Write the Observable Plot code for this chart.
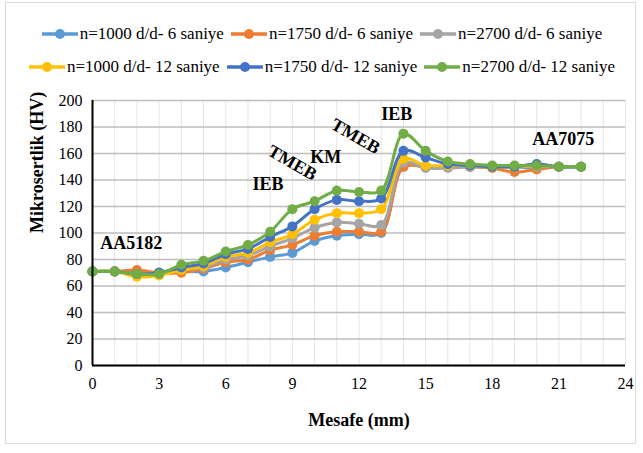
<!DOCTYPE html>
<html>
<head>
<meta charset="utf-8">
<script src="https://cdn.jsdelivr.net/npm/d3@7"></script>
<script src="https://cdn.jsdelivr.net/npm/@observablehq/plot@0.6"></script>
<style>
  html, body { margin: 0; padding: 0; background: #fff; }
  body { width: 643px; height: 453px; position: relative; overflow: hidden; font-family: "Liberation Serif", "Tinos", "DejaVu Serif", serif; }
  #frame { position: absolute; left: 5px; top: 2px; width: 631px; height: 442px; border: 1px solid #d9d9d9; box-sizing: border-box; }
  #legend { position: absolute; left: 0; top: 17px; width: 643px; }
  .row { display: flex; justify-content: center; align-items: center; height: 33px; }
  .item { display: flex; align-items: center; font-size: 17px; color: #000; margin: 0 3px; }
  .item svg { margin-right: 1px; }
  #chart { position: absolute; left: 0; top: 85px; }
  #chart svg text { font-family: "Liberation Serif", "Tinos", "DejaVu Serif", serif; }
</style>
</head>
<body>
<div id="frame"></div>
<div id="legend"></div>
<div id="chart"></div>
<script>
const distance = [0, 1, 2, 3, 4, 5, 6, 7, 8, 9, 10, 11, 12, 13, 14, 15, 16, 17, 18, 19, 20, 21, 22];

const s1000_6  = [71, 71, 70, 70, 71, 71, 74, 78, 82, 85, 94, 98, 99, 100, 150, 150, 150, 150, 150, 150, 149, 150, 150];
const s1750_6  = [71, 71, 72, 70, 70, 73, 78, 80, 87, 91, 98, 101, 101, 101, 150, 150, 150, 150, 149, 146, 148, 150, 150];
const s2700_6  = [71, 71, 69, 70, 72, 74, 80, 83, 90, 96, 104, 108, 107, 106, 153, 149, 149, 150, 150, 150, 150, 150, 150];
const s1000_12 = [71, 71, 67, 68, 72, 75, 82, 85, 93, 99, 110, 115, 115, 118, 156, 151, 151, 151, 150, 150, 151, 150, 150];
const s1750_12 = [71, 71, 69, 70, 74, 77, 84, 88, 97, 105, 118, 125, 124, 126, 162, 157, 152, 151, 150, 150, 152, 150, 150];
const s2700_12 = [71, 71, 69, 69, 76, 79, 86, 91, 101, 118, 124, 132, 131, 132, 175, 162, 154, 152, 151, 151, 151, 150, 150];

const seriesNames = ["n=1000 d/d- 6 saniye", "n=1750 d/d- 6 saniye", "n=2700 d/d- 6 saniye",
                     "n=1000 d/d- 12 saniye", "n=1750 d/d- 12 saniye", "n=2700 d/d- 12 saniye"];
const seriesColors = ["#5B9BD5", "#ED7D31", "#A5A5A5", "#FFC000", "#4472C4", "#70AD47"];
const seriesValues = [s1000_6, s1750_6, s2700_6, s1000_12, s1750_12, s2700_12];

const xTicks = [0, 3, 6, 9, 12, 15, 18, 21, 24];
const yTicks = [0, 20, 40, 60, 80, 100, 120, 140, 160, 180, 200];

const annLabels = ["AA5182", "IEB", "TMEB", "KM", "TMEB", "IEB", "AA7075"];
const annX      = [0.35, 7.9, 9.0, 10.5, 11.85, 13.7, 21.2];
const annY      = [92, 137, 153, 157, 173, 190, 171];
const annRotate = [0, 0, 30, 0, 30, 0, 0];
const annAnchor = ["start", "middle", "middle", "middle", "middle", "middle", "middle"];

const rows = [];
seriesNames.forEach((name, i) => {
  distance.forEach((d, j) => rows.push({series: name, idx: i, x: d, y: seriesValues[i][j]}));
});
const ann = annLabels.map((t, i) => ({t, x: annX[i], y: annY[i], r: annRotate[i], a: annAnchor[i]}));

// Legend
const legend = document.getElementById("legend");
[[0, 1, 2], [3, 4, 5]].forEach(idxs => {
  const row = document.createElement("div");
  row.className = "row";
  idxs.forEach(i => {
    const it = document.createElement("div");
    it.className = "item";
    it.innerHTML = `<svg width="38" height="12"><line x1="1" y1="6" x2="37" y2="6" stroke="${seriesColors[i]}" stroke-width="3.5"/><circle cx="19" cy="6" r="5" fill="${seriesColors[i]}"/></svg><span>${seriesNames[i]}</span>`;
    row.appendChild(it);
  });
  legend.appendChild(row);
});

const minorX = d3.range(0, 25, 1);

const marks = [
  Plot.ruleX(minorX, {stroke: "#e4e4e4", strokeWidth: 1}),
  Plot.ruleY(yTicks, {stroke: "#bdbdbd", strokeWidth: 1.5}),
  Plot.axisX(xTicks, {tickSize: 0, tickPadding: 12, fontSize: 16, label: null}),
  Plot.axisY(yTicks, {tickSize: 0, tickPadding: 10, fontSize: 16, label: null}),
];
seriesNames.forEach((name, i) => {
  const data = rows.filter(r => r.idx === i);
  marks.push(Plot.line(data, {x: "x", y: "y", stroke: seriesColors[i], strokeWidth: 3, curve: "catmull-rom"}));
  marks.push(Plot.dot(data, {x: "x", y: "y", r: 5, fill: seriesColors[i], stroke: "none"}));
});
marks.push(
  Plot.ruleX([0], {stroke: "#000", strokeWidth: 2}),
  Plot.ruleY([0], {stroke: "#000", strokeWidth: 2}),
  Plot.text(ann, {x: "x", y: "y", text: "t", rotate: "r", textAnchor: "start", filter: d => d.a === "start", fontSize: 18, fontWeight: "bold", fill: "#000"}),
  Plot.text(ann, {x: "x", y: "y", text: "t", rotate: "r", filter: d => d.a === "middle", fontSize: 18, fontWeight: "bold", fill: "#000"}),
  Plot.text(["Mesafe (mm)"], {frameAnchor: "bottom", dy: 60, fontSize: 18, fontWeight: "bold", fill: "#000"}),
  Plot.text(["Mikrosertlik (HV)"], {frameAnchor: "left", dx: -55, rotate: -90, fontSize: 18, fontWeight: "bold", fill: "#000"})
);

const chart = Plot.plot({
  width: 643,
  height: 368,
  marginLeft: 92,
  marginRight: 18,
  marginTop: 15,
  marginBottom: 88,
  style: {fontFamily: "'Liberation Serif', 'Tinos', 'DejaVu Serif', serif", fontSize: "16px", color: "#000", background: "transparent"},
  x: {domain: [0, 24]},
  y: {domain: [0, 200]},
  marks
});
document.getElementById("chart").appendChild(chart);
</script>
</body>
</html>
